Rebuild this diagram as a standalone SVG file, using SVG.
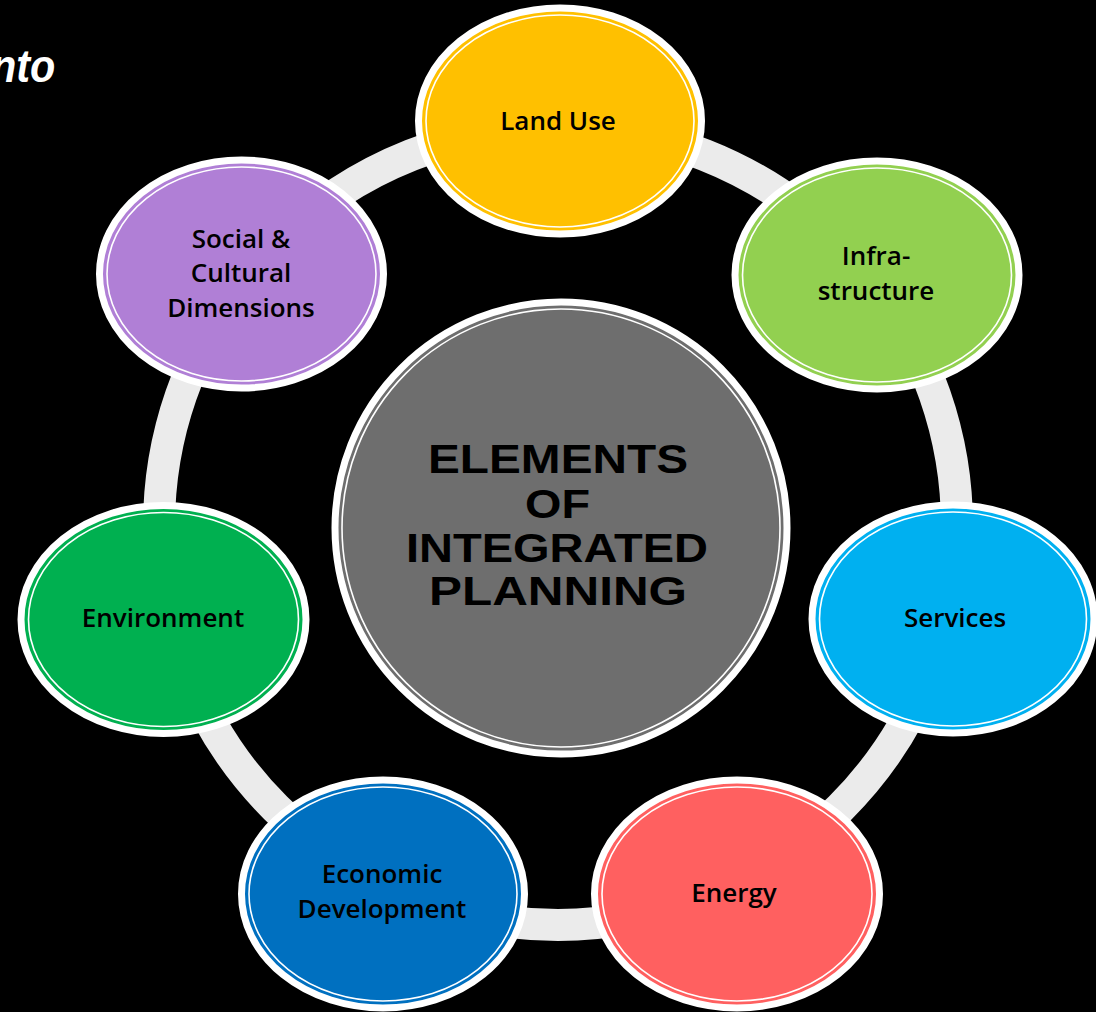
<svg xmlns="http://www.w3.org/2000/svg" width="1096" height="1012" viewBox="0 0 1096 1012">
<style>
.bg{fill:#000}
.ring{fill:none;stroke:#ebebeb;stroke-width:32}
.outer{stroke:#fff;stroke-width:7}
.inner{fill:none;stroke:#fff;stroke-width:1.6}
.lbl{font-family:"Open Sans","Liberation Sans",sans-serif;font-weight:600;font-size:26px;fill:#000;text-anchor:middle}
.title{font-family:"Liberation Sans",Arial,sans-serif;font-weight:bold;font-size:40px;fill:#000}
.corner{font-family:"Liberation Sans",Arial,sans-serif;font-weight:bold;font-style:italic;font-size:46px;fill:#fff}
</style>
<rect class="bg" x="0" y="0" width="1096" height="1012"/>
<text class="corner" x="-10" y="82" transform="scale(0.9,1)">nto</text>
<g id="connectors">
<circle class="ring" cx="558" cy="526" r="399"/>
</g>
<g id="center">
<circle cx="561" cy="528" r="226" fill="#6e6e6e" class="outer"/>
<circle class="inner" cx="561" cy="528" r="219"/>
<text class="title" x="428" y="473" textLength="260" lengthAdjust="spacingAndGlyphs">ELEMENTS</text>
<text class="title" x="525" y="518" textLength="65" lengthAdjust="spacingAndGlyphs">OF</text>
<text class="title" x="406" y="562" textLength="302" lengthAdjust="spacingAndGlyphs">INTEGRATED</text>
<text class="title" x="429" y="605" textLength="258" lengthAdjust="spacingAndGlyphs">PLANNING</text>
</g>
<g id="land-use">
<ellipse class="outer" cx="560" cy="121" rx="141.5" ry="113" fill="#ffc000"/>
<ellipse class="inner" cx="560" cy="121" rx="134" ry="106"/>
<text class="lbl" x="558" y="130">Land Use</text>
</g>
<g id="infrastructure">
<ellipse class="outer" cx="877" cy="275" rx="142" ry="114" fill="#92d050"/>
<ellipse class="inner" cx="877" cy="275" rx="134.5" ry="107"/>
<text class="lbl" x="876" y="265">Infra-</text>
<text class="lbl" x="876" y="300">structure</text>
</g>
<g id="services">
<ellipse class="outer" cx="953" cy="619" rx="141" ry="114" fill="#00b0f0"/>
<ellipse class="inner" cx="953" cy="619" rx="133.5" ry="107"/>
<text class="lbl" x="955" y="627">Services</text>
</g>
<g id="energy">
<ellipse class="outer" cx="737" cy="894" rx="142.5" ry="114" fill="#ff6060"/>
<ellipse class="inner" cx="737" cy="894" rx="135" ry="107"/>
<text class="lbl" x="734" y="902">Energy</text>
</g>
<g id="economic-development">
<ellipse class="outer" cx="383" cy="894" rx="141.5" ry="114" fill="#0070c0"/>
<ellipse class="inner" cx="383" cy="894" rx="134" ry="107"/>
<text class="lbl" x="382" y="883">Economic</text>
<text class="lbl" x="382" y="918">Development</text>
</g>
<g id="environment">
<ellipse class="outer" cx="163.5" cy="619.5" rx="142.5" ry="114" fill="#00b050"/>
<ellipse class="inner" cx="163.5" cy="619.5" rx="135" ry="107"/>
<text class="lbl" x="163" y="627">Environment</text>
</g>
<g id="social-cultural">
<ellipse class="outer" cx="241.5" cy="274" rx="142" ry="114" fill="#b07fd6"/>
<ellipse class="inner" cx="241.5" cy="274" rx="134.5" ry="107"/>
<text class="lbl" x="241" y="248">Social &amp;</text>
<text class="lbl" x="241" y="282">Cultural</text>
<text class="lbl" x="241" y="317">Dimensions</text>
</g>
</svg>
